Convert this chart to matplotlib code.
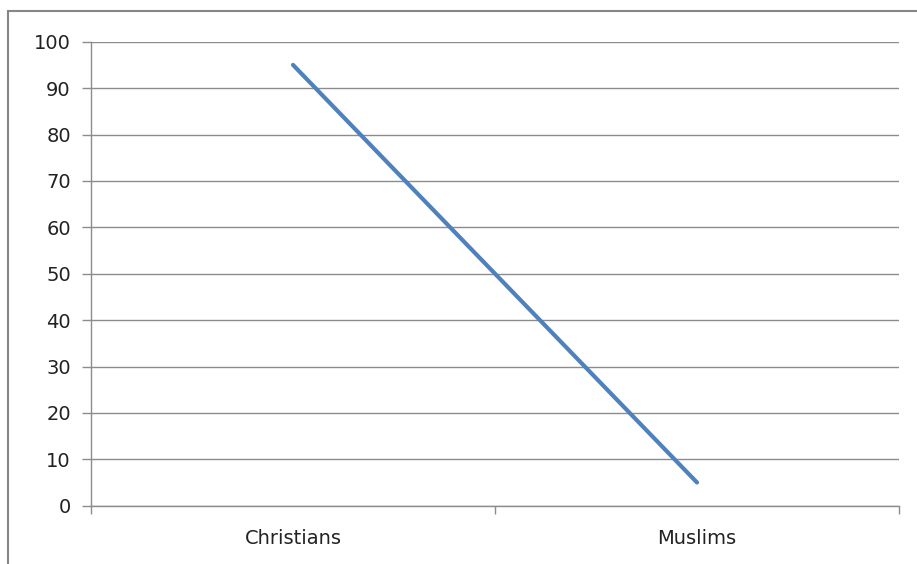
import matplotlib
matplotlib.use("Agg")
import matplotlib.pyplot as plt
from matplotlib.patches import Rectangle

categories = ["Christians", "Muslims"]
values = [95, 5]
yticks = [0, 10, 20, 30, 40, 50, 60, 70, 80, 90, 100]

W, H = 917, 564
fig = plt.figure(figsize=(W / 100, H / 100), dpi=100)
plt.rcParams['font.family'] = ['DejaVu Sans']

# outer chart frame (cut off at right and bottom)
fig.patches.append(Rectangle((8 / W, -0.2), 1.2, 1.2 - 11 / H,
                             transform=fig.transFigure, fill=False,
                             edgecolor='#868686', linewidth=1.5))

ax = fig.add_axes([91 / W, 1 - 505.7 / H, (899 - 91) / W, (505.7 - 41.7) / H])
x = [0.5, 1.5]
ax.plot(x, values, color='#4F81BD', linewidth=3.0, solid_capstyle='round')
ax.set_xlim(0, 2)
ax.set_ylim(0, 100)
ax.set_yticks(yticks)
ax.set_yticklabels([str(v) for v in yticks], fontsize=14, color='#222222')
ax.yaxis.grid(True, color='#8c8c8c', linewidth=1)
ax.set_axisbelow(True)

ax.set_xticks([0, 1, 2])
ax.set_xticklabels([])
ax.set_xticks(x, minor=True)
ax.set_xticklabels(categories, minor=True, fontsize=14, color='#222222')
ax.tick_params(axis='x', which='minor', length=0, pad=17)
ax.tick_params(axis='x', which='major', length=6, color='#8c8c8c', width=1)
ax.tick_params(axis='y', length=6.5, color='#8c8c8c', width=1, pad=8)

for s in ['top', 'right']:
    ax.spines[s].set_visible(False)
for s in ['left', 'bottom']:
    ax.spines[s].set_color('#8c8c8c')
    ax.spines[s].set_linewidth(1)

fig.savefig("out.png", dpi=100)
